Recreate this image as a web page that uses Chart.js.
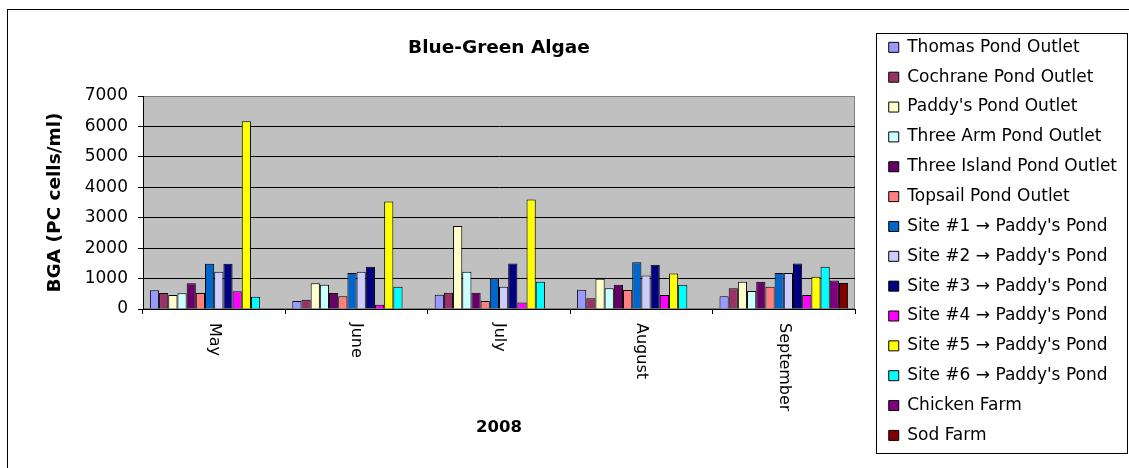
<!DOCTYPE html>
<html>
<head>
<meta charset="utf-8">
<script src="https://cdn.jsdelivr.net/npm/chart.js@4.4.1/dist/chart.umd.min.js"></script>
<style>
  body { margin: 0; background: #fff; }
  canvas { display: block; }
</style>
</head>
<body>
<canvas id="bga" width="1129" height="468"></canvas>
<script>
const months = ['May', 'June', 'July', 'August', 'September'];
const yTicks = [0, 1000, 2000, 3000, 4000, 5000, 6000, 7000];

// BGA values per site, May..September
const thomasPond = [620, 260, 470, 630, 415];
const cochranePond = [525, 305, 535, 350, 680];
const paddysPond = [460, 850, 2730, 995, 895];
const threeArmPond = [520, 800, 1225, 680, 590];
const threeIslandPond = [850, 525, 535, 800, 895];
const topsailPond = [525, 415, 260, 625, 730];
const site1 = [1490, 1180, 1005, 1540, 1180];
const site2 = [1225, 1225, 730, 1105, 1180];
const site3 = [1490, 1390, 1495, 1455, 1495];
const site4 = [580, 140, 210, 460, 460];
const site5 = [6170, 3530, 3595, 1170, 1060];
const site6 = [405, 730, 895, 800, 1390];
const chickenFarm = [null, null, null, null, 940];
const sodFarm = [null, null, null, null, 855];

const seriesNames = [
  'Thomas Pond Outlet', 'Cochrane Pond Outlet', "Paddy's Pond Outlet",
  'Three Arm Pond Outlet', 'Three Island Pond Outlet', 'Topsail Pond Outlet',
  "Site #1 \u2192 Paddy's Pond", "Site #2 \u2192 Paddy's Pond", "Site #3 \u2192 Paddy's Pond",
  "Site #4 \u2192 Paddy's Pond", "Site #5 \u2192 Paddy's Pond", "Site #6 \u2192 Paddy's Pond",
  'Chicken Farm', 'Sod Farm'
];
const seriesValues = [
  thomasPond, cochranePond, paddysPond, threeArmPond, threeIslandPond, topsailPond,
  site1, site2, site3, site4, site5, site6, chickenFarm, sodFarm
];
const seriesColors = [
  '#9999FF', '#993366', '#FFFFCC', '#CCFFFF', '#660066', '#FF8080',
  '#0066CC', '#CCCCFF', '#000080', '#FF00FF', '#FFFF00', '#00FFFF',
  '#800080', '#800000'
];

const FONT = '"DejaVu Sans", Arial, sans-serif';
const PLOT_RIGHT = 855;

const frame = {
  id: 'frame',
  beforeDraw(chart) {
    const { ctx, chartArea: a } = chart;
    ctx.save();
    ctx.fillStyle = '#fff';
    ctx.fillRect(0, 0, chart.width, chart.height);
    ctx.strokeStyle = '#000';
    ctx.lineWidth = 1;
    ctx.strokeRect(7.5, 9.5, 1140, 480);
    ctx.fillStyle = '#C0C0C0';
    ctx.fillRect(a.left, a.top, a.width, a.height);
    ctx.strokeStyle = '#808080';
    ctx.strokeRect(a.left + 0.5, Math.round(a.top) + 0.5, a.width - 1, a.height - 1);
    ctx.restore();
  },
  afterDraw(chart) {
    const { ctx } = chart;
    const xs = chart.scales.x;
    ctx.save();
    // month labels, turned clockwise
    ctx.fillStyle = '#000';
    ctx.font = '16px ' + FONT;
    ctx.textAlign = 'left';
    ctx.textBaseline = 'middle';
    months.forEach((m, i) => {
      ctx.save();
      ctx.translate(xs.getPixelForValue(i), xs.top + 14);
      ctx.rotate(Math.PI / 2);
      ctx.fillText(m, 0, 0);
      ctx.restore();
    });
    // legend box
    const lg = chart.legend;
    const hb = lg.legendHitBoxes;
    const top = Math.round(hb[0].top - 5.5) + 0.5;
    const last = hb[hb.length - 1];
    const bottom = Math.round(last.top + last.height + 9.5) + 0.5;
    const left = Math.round(lg.left) + 0.5;
    ctx.strokeStyle = '#000';
    ctx.lineWidth = 1;
    ctx.strokeRect(left, top, 1127.5 - left, bottom - top);
    ctx.restore();
  }
};

new Chart(document.getElementById('bga'), {
  type: 'bar',
  plugins: [frame],
  data: {
    labels: months,
    datasets: seriesNames.map((name, i) => ({
      label: name,
      data: seriesValues[i],
      backgroundColor: seriesColors[i],
      borderColor: '#000',
      borderWidth: 1,
      yAxisID: 'y',
      categoryPercentage: 14 / 15.5,
      barPercentage: 1
    }))
  },
  options: {
    responsive: false,
    animation: false,
    layout: {
      padding: { top: 26, right: 2, bottom: 5, left: 0 }
    },
    scales: {
      x: {
        type: 'category',
        ticks: { display: false },
        grid: { drawOnChartArea: false, color: '#000', tickLength: 5 },
        border: { color: '#000' },
        title: {
          display: true,
          text: '2008',
          color: '#000',
          font: { family: FONT, size: 16.5, weight: 'bold' },
          padding: { top: 0, bottom: 25.1 }
        },
        afterFit(s) { s.height = 463 - 309; }
      },
      y: {
        min: 0,
        max: 7000,
        afterBuildTicks(s) { s.ticks = yTicks.map(v => ({ value: v })); },
        ticks: {
          padding: 10,
          color: '#000',
          font: { family: FONT, size: 17 },
          callback: v => String(v)
        },
        grid: {
          color: c => (c.tick && c.tick.value === 7000 ? '#808080' : '#000'),
          tickColor: '#000',
          tickLength: 5
        },
        border: { color: '#000' },
        title: {
          display: true,
          text: 'BGA (PC cells/ml)',
          color: '#000',
          font: { family: FONT, size: 18.5, weight: 'bold' },
          padding: { top: 44.4, bottom: 0 }
        },
        afterFit(s) { s.width = 143; }
      },
      gap: {
        type: 'linear',
        position: 'right',
        grid: { display: false },
        ticks: { display: false },
        border: { display: false },
        afterFit(s) { s.width = Math.max(0, 1129 - 2 - s.chart.legend.width - PLOT_RIGHT); }
      }
    },
    plugins: {
      title: {
        display: true,
        text: 'Blue-Green Algae',
        fullSize: false,
        color: '#000',
        font: { family: FONT, size: 18.5, weight: 'bold' },
        padding: { top: 11, bottom: 36.8 }
      },
      legend: {
        position: 'right',
        align: 'start',
        maxWidth: 320,
        labels: {
          boxWidth: 10,
          boxHeight: 10,
          padding: 12.85,
          color: '#000',
          font: { family: FONT, size: 17 }
        }
      },
      tooltip: { enabled: false }
    }
  }
});
</script>
</body>
</html>
